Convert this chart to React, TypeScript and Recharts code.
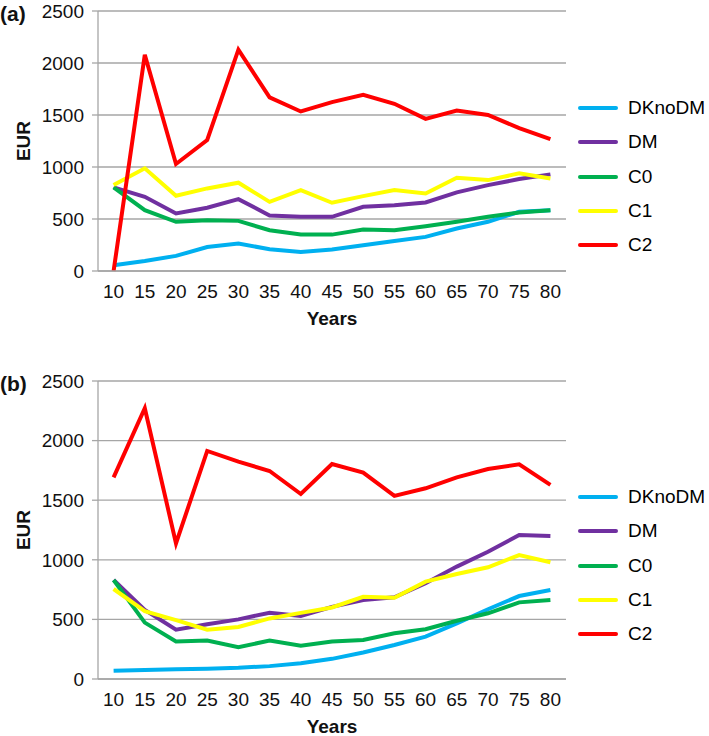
import React from "react";
import { LineChart, Line, XAxis, YAxis, CartesianGrid, Legend, Label } from "recharts";

const YEARS = [10, 15, 20, 25, 30, 35, 40, 45, 50, 55, 60, 65, 70, 75, 80];
const SERIES_NAMES = ["DKnoDM", "DM", "C0", "C1", "C2"];
const Y_TICKS = [0, 500, 1000, 1500, 2000, 2500];

// panel (a)
const A_DKNODM = [55, 96, 145, 231, 264, 209, 183, 206, 248, 289, 328, 408, 473, 569, 585];
const A_DM = [804, 714, 553, 608, 691, 534, 521, 521, 617, 633, 659, 756, 826, 884, 929];
const A_C0 = [804, 585, 473, 489, 482, 392, 350, 350, 399, 392, 431, 473, 521, 563, 585];
const A_C1 = [826, 987, 723, 794, 849, 665, 778, 656, 720, 778, 746, 897, 874, 939, 890];
const A_C2 = [0, 2080, 1029, 1260, 2128, 1669, 1534, 1624, 1694, 1608, 1463, 1543, 1501, 1373, 1267];

// panel (b)
const B_DKNODM = [69, 75, 81, 86, 94, 108, 133, 169, 222, 285, 355, 467, 585, 696, 747];
const B_DM = [831, 579, 414, 460, 500, 556, 529, 605, 662, 685, 803, 943, 1068, 1208, 1200];
const B_C0 = [831, 473, 314, 322, 267, 322, 279, 314, 328, 383, 417, 489, 551, 643, 663];
const B_C1 = [755, 569, 494, 414, 436, 508, 555, 600, 690, 682, 817, 881, 937, 1040, 979];
const B_C2 = [1692, 2271, 1138, 1913, 1824, 1745, 1552, 1804, 1731, 1536, 1600, 1692, 1762, 1801, 1628];

const COLORS = ["#00B0F0", "#7030A0", "#00B050", "#FFFF00", "#FF0000"];
const FONT = "'Liberation Sans', Arial, Helvetica, sans-serif";
const GRID = "#a6a6a6";

const buildRows = (series: number[][]) =>
  YEARS.map((year, i) => {
    const row: Record<string, number> = { year };
    SERIES_NAMES.forEach((name, s) => {
      row[name] = series[s][i];
    });
    return row;
  });

const DATA_A = buildRows([A_DKNODM, A_DM, A_C0, A_C1, A_C2]);
const DATA_B = buildRows([B_DKNODM, B_DM, B_C0, B_C1, B_C2]);

// keep legend in series order instead of alphabetical
// eslint-disable-next-line @typescript-eslint/no-explicit-any
const legendOrder = (item: any) => SERIES_NAMES.indexOf(item.value);

// eslint-disable-next-line @typescript-eslint/no-explicit-any
const LegendList = ({ payload }: any) => (
  <div style={{ fontFamily: FONT, fontSize: 19, color: "#000" }}>
    {(payload || []).map((p: any) => (
      <div
        key={p.value}
        style={{ display: "flex", alignItems: "center", height: 34.3 }}
      >
        <div
          style={{
            width: 40,
            height: 4,
            borderRadius: 2,
            background: p.color,
            marginRight: 10,
          }}
        />
        <span>{p.value}</span>
      </div>
    ))}
  </div>
);

interface PanelProps {
  tag: string;
  data: Record<string, number>[];
  top: number;
  height: number;
  plotHeight: number;
  legendTop: number;
}

const Panel: React.FC<PanelProps> = ({ tag, data, top, height, plotHeight, legendTop }) => {
  const xAxisHeight = height - 11 - plotHeight;
  return (
    <div style={{ position: "absolute", left: 0, top, width: 709, height }}>
      <LineChart
        width={709}
        height={height}
        data={data}
        margin={{ top: 11, right: 143, bottom: 0, left: 0 }}
      >
        <CartesianGrid vertical={false} stroke={GRID} strokeWidth={1.3} />
        <XAxis
          dataKey="year"
          interval={0}
          height={xAxisHeight}
          padding={{ left: 15.6, right: 15.6 }}
          axisLine={{ stroke: GRID, strokeWidth: 1.3 }}
          tickLine={false}
          tickSize={0}
          tickMargin={14}
          tick={{ fill: "#111", fontSize: 19, fontFamily: FONT }}
        >
          <Label
            value="Years"
            position="insideTop"
            offset={41}
            style={{ fill: "#111", fontSize: 19, fontWeight: 700, fontFamily: FONT }}
          />
        </XAxis>
        <YAxis
          width={98}
          domain={[0, 2500]}
          ticks={Y_TICKS}
          interval={0}
          axisLine={{ stroke: GRID, strokeWidth: 1.3 }}
          tickLine={{ stroke: GRID, strokeWidth: 1.3 }}
          tickSize={6}
          tickMargin={8}
          tick={{ fill: "#111", fontSize: 19, fontFamily: FONT }}
        >
          <Label
            value="EUR"
            angle={-90}
            position="center"
            dx={-26}
            style={{ fill: "#111", fontSize: 19, fontWeight: 700, fontFamily: FONT }}
          />
        </YAxis>
        {SERIES_NAMES.map((name, i) => (
          <Line
            key={name}
            type="linear"
            dataKey={name}
            name={name}
            stroke={COLORS[i]}
            strokeWidth={4}
            dot={false}
            activeDot={false}
            isAnimationActive={false}
          />
        ))}
        <Legend
          layout="vertical"
          align="center"
          verticalAlign="middle"
          itemSorter={legendOrder}
          content={<LegendList />}
          wrapperStyle={{ left: 578, top: legendTop, width: 131 }}
        />
      </LineChart>
      <div
        style={{
          position: "absolute",
          left: 0,
          top: 2,
          fontFamily: FONT,
          fontSize: 21,
          fontWeight: 700,
          lineHeight: "24px",
          color: "#111",
        }}
      >
        {tag}
      </div>
    </div>
  );
};

export default function App() {
  return (
    <div
      style={{
        position: "fixed",
        left: 0,
        top: 0,
        width: 709,
        height: 736,
        background: "#fff",
        overflow: "hidden",
      }}
    >
      <Panel tag="(a)" data={DATA_A} top={0} height={340} plotHeight={260} legendTop={91} />
      <Panel tag="(b)" data={DATA_B} top={370} height={366} plotHeight={298} legendTop={110} />
    </div>
  );
}
